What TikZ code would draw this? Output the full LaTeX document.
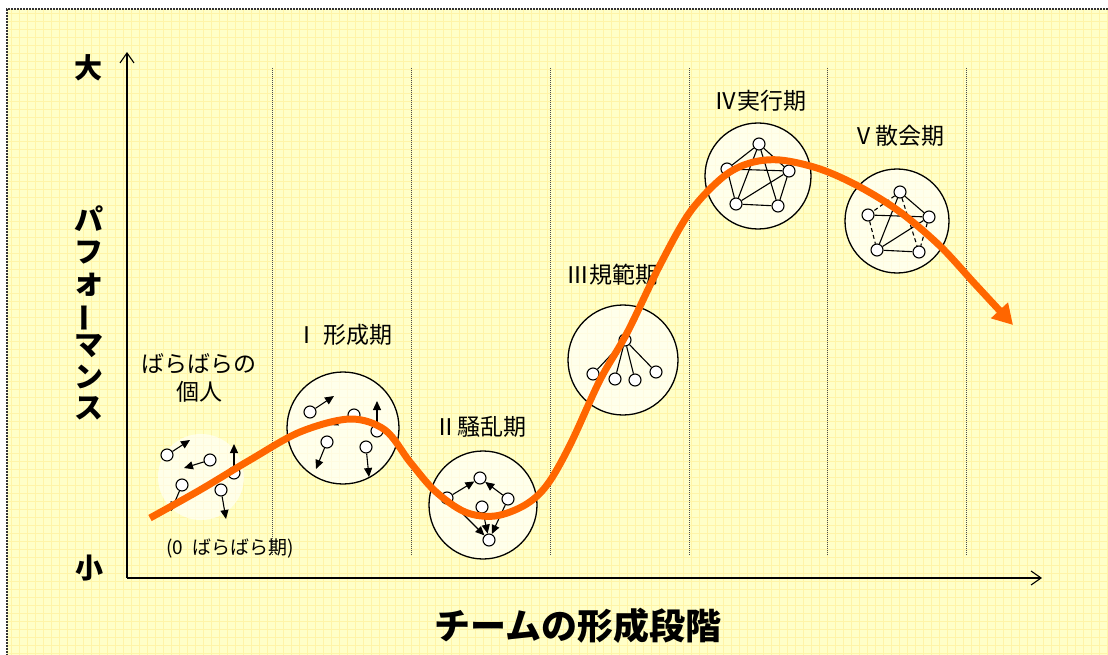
\documentclass[tikz,border=0pt]{standalone}
\usepackage{fontspec}
\usepackage{graphicx}
\setmainfont{Noto Sans CJK JP}
\usetikzlibrary{arrows.meta}
\definecolor{bgyellow}{HTML}{FFFFC8}
\definecolor{gridyellow}{HTML}{FFF4A8}
\definecolor{curveorange}{HTML}{FF6600}
\begin{document}
\begin{tikzpicture}[x=1pt,y=-1pt,
  bigcircle/.style={draw=black,line width=1.3pt,fill=white,fill opacity=0.65,text opacity=1},
  dot/.style={circle,draw=black,line width=1.1pt,fill=white,inner sep=0pt,minimum size=12pt},
  push/.style={line width=1.1pt,-{Triangle[length=9pt,width=8pt]}},
  link/.style={line width=1.1pt},
  dlink/.style={line width=1.1pt,dash pattern=on 4pt off 3pt},
  divider/.style={gray!60!black,line width=0.8pt,dash pattern=on 1pt off 1pt},
  axis/.style={line width=1.3pt,-{Straight Barb[length=10pt,width=14pt,line width=1.1pt]}},
  stage/.style={font=\fontsize{23}{26}\selectfont,inner sep=0pt},
  big/.style={font=\bfseries\fontsize{28}{30}\selectfont,inner sep=0pt}]
\useasboundingbox (0,0) rectangle (1108,655);
% background
\fill[white] (0,0) rectangle (1108,655);
\fill[bgyellow] (7,9) rectangle (1108,655);
\foreach \gx in {11,19,...,1108} \draw[gridyellow,line width=0.6pt] (\gx,9) -- (\gx,655);
\foreach \gy in {13,21,...,655} \draw[gridyellow,line width=0.6pt] (7,\gy) -- (1108,\gy);
\draw[gray!40!black,line width=1.6pt,dash pattern=on 1.6pt off 1.4pt] (1120,9) -- (7,9) -- (7,670);
% dividers
\foreach \dx in {272,411,550,689,827,966} \draw[divider] (\dx,68) -- (\dx,555);
% axes
\coordinate (origin) at (127,578);
\coordinate (ytip) at (127,52);
\coordinate (xtip) at (1042,578);
\draw[axis] (origin) -- (ytip);
\draw[axis] (origin) -- (xtip);
\node[big] (bigl) at (88,68) {大};
\node[big] (smalll) at (89,568) {小};
\node[font=\bfseries\fontsize{29}{31.3}\selectfont,align=center,inner sep=0pt] (ylabel) at (89,313)
  {パ\\フ\\\scalebox{1.12}{ォ}\\\rotatebox[origin=c]{90}{ー}\\マ\\ン\\ス};
\node[font=\bfseries\fontsize{36}{38}\selectfont,inner sep=0pt] (xlabel) at (578,626) {チームの形成段階};
% stage labels
\node[stage,align=center] (l0) at (199,378) {ばらばらの\\[2pt]個人};
\node[font=\fontsize{19}{22}\selectfont,inner sep=0pt] (l0b) at (230,548) {(0\hspace{0.45em}ばらばら期)};
\node[stage] (l1) at (344,335) {Ⅰ 形成期};
\node[stage] (l2) at (480,427) {Ⅱ騒乱期};
\node[stage] (l3) at (612,275) {Ⅲ規範期};
\node[stage] (l4) at (760,101) {Ⅳ実行期};
\node[stage] (l5) at (898,136) {Ⅴ散会期};
% circles
\fill[white,opacity=0.6] (201,477) circle (43);
\draw[bigcircle] (343,428) circle (56);
\draw[bigcircle] (483,505) circle (54);
\draw[bigcircle] (623,360) circle (55);
\draw[bigcircle] (758,176) circle (53);
\draw[bigcircle] (897,221) circle (52);
% stage 0
\node[dot] (a0) at (167,455) {};
\node[dot] (b0) at (210,460) {};
\node[dot] (c0) at (234,473) {};
\node[dot] (d0) at (182,485) {};
\node[dot] (e0) at (221,490) {};
\coordinate (ta0) at (190,440);
\coordinate (tb0) at (184,468);
\coordinate (tc0) at (234,444);
\coordinate (td0) at (171,511);
\coordinate (te0) at (226,519);
\draw[push] (a0) -- (ta0);
\draw[push] (b0) -- (tb0);
\draw[push] (c0) -- (tc0);
\draw[push] (d0) -- (td0);
\draw[push] (e0) -- (te0);
% stage I
\node[dot] (a1) at (310,412) {};
\node[dot] (b1) at (354,415) {};
\node[dot] (c1) at (377,431) {};
\node[dot] (d1) at (327,442) {};
\node[dot] (e1) at (366,447) {};
\coordinate (ta1) at (334,396);
\coordinate (tb1) at (329,425);
\coordinate (tc1) at (377,401);
\coordinate (td1) at (316,469);
\coordinate (te1) at (369,477);
\draw[push] (a1) -- (ta1);
\draw[push] (b1) -- (tb1);
\draw[push] (c1) -- (tc1);
\draw[push] (d1) -- (td1);
\draw[push] (e1) -- (te1);
% stage II
\node[dot] (a2) at (447,498) {};
\node[dot] (b2) at (480,478) {};
\node[dot] (c2) at (508,499) {};
\node[dot] (d2) at (482,507) {};
\node[dot] (e2) at (489,540) {};
\draw[push] (a2) -- (b2);
\draw[push] (c2) -- (b2);
\draw[push] (a2) -- (e2);
\draw[push] (d2) -- (e2);
\draw[push] (c2) -- (e2);
% stage III
\node[dot] (t3) at (625,340) {};
\node[dot] (p3) at (593,374) {};
\node[dot] (q3) at (615,379) {};
\node[dot] (r3) at (635,380) {};
\node[dot] (s3) at (656,372) {};
\foreach \n in {p3,q3,r3,s3} \draw[link] (t3) -- (\n);
% stage IV
\node[dot] (t4) at (759,144) {};
\node[dot] (l4n) at (727,169) {};
\node[dot] (r4) at (789,171) {};
\node[dot] (bl4) at (736,204) {};
\node[dot] (br4) at (778,206) {};
\draw[link] (t4) -- (l4n);
\draw[link] (t4) -- (r4);
\draw[link] (t4) -- (bl4);
\draw[link] (t4) -- (br4);
\draw[link] (l4n) -- (r4);
\draw[link] (l4n) -- (bl4);
\draw[link] (bl4) -- (r4);
\draw[link] (bl4) -- (br4);
\draw[link] (r4) -- (br4);
% stage V
\node[dot] (t5) at (900,192) {};
\node[dot] (l5n) at (868,215) {};
\node[dot] (r5) at (929,217) {};
\node[dot] (bl5) at (877,250) {};
\node[dot] (br5) at (919,252) {};
\draw[dlink] (t5) -- (l5n);
\draw[link] (t5) -- (r5);
\draw[link] (l5n) -- (r5);
\draw[dlink] (l5n) -- (bl5);
\draw[link] (t5) -- (bl5);
\draw[dlink] (t5) -- (br5);
\draw[link] (bl5) -- (r5);
\draw[link] (bl5) -- (br5);
\draw[dlink] (r5) -- (br5);
% performance curve
\draw[curveorange,line width=7pt,line cap=butt,-{Triangle[length=20pt,width=22pt]}]
  plot[smooth,tension=0.55] coordinates {(150,518) (200,490) (250,460) (300,432) (350,419) (385,430)
  (410,462) (435,491) (465,512) (495,516) (525,505) (547,485) (570,445) (600,380) (627,333)
  (660,265) (690,212) (723,177) (750,163) (780,160) (820,169) (860,187) (900,212) (940,246)
  (975,284) (1013,325)};
\end{tikzpicture}
\end{document}
